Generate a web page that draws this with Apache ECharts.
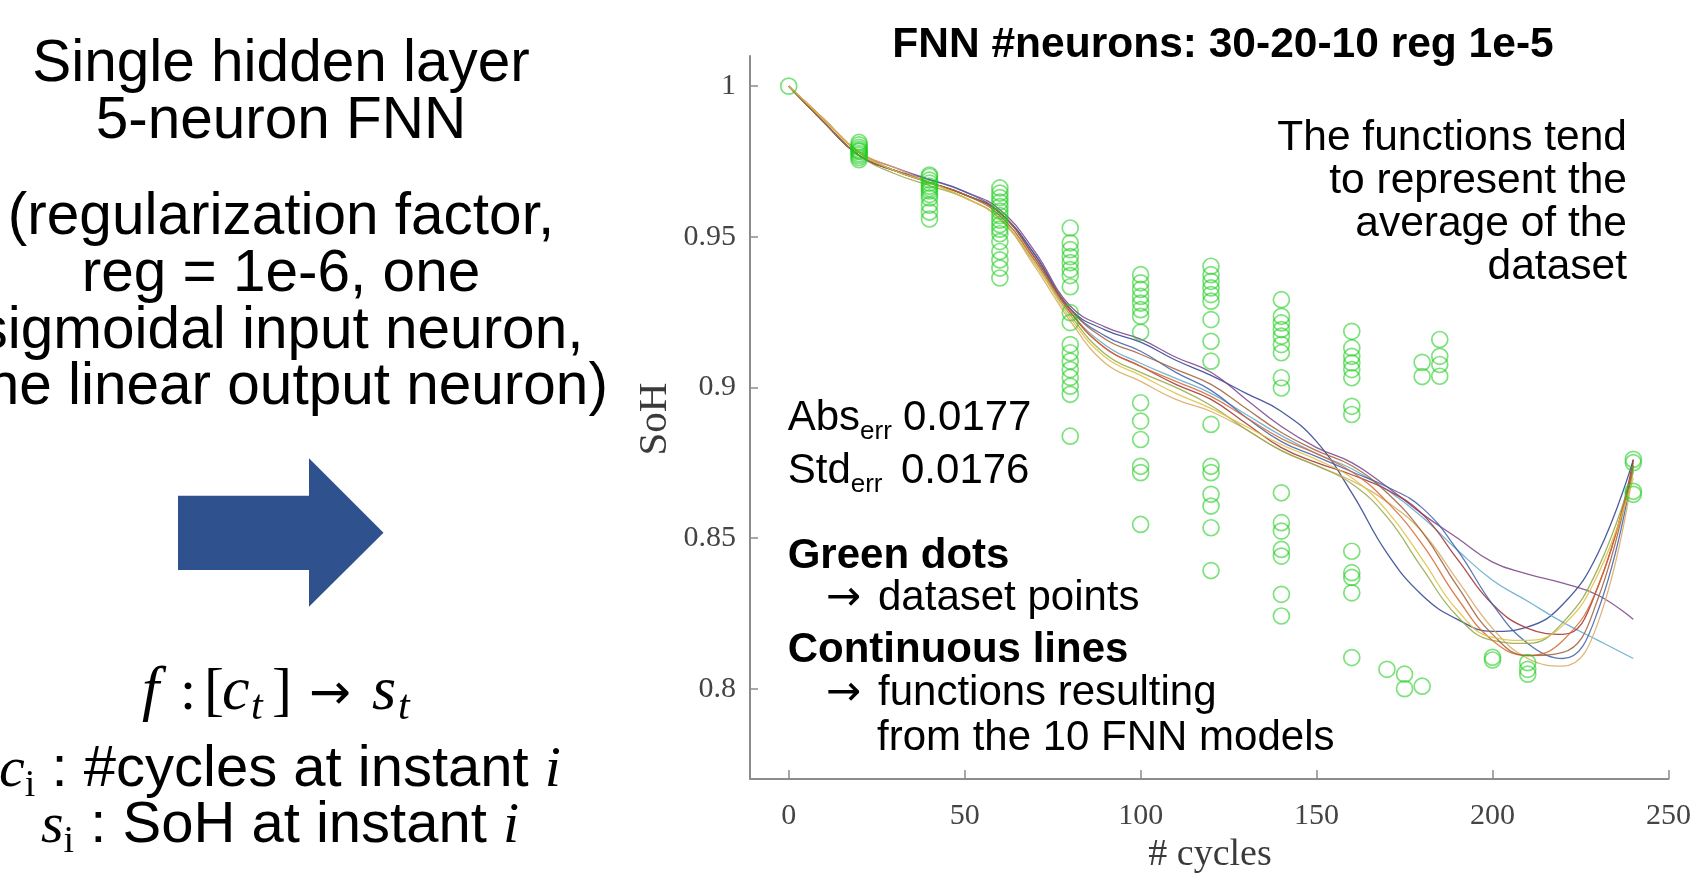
<!DOCTYPE html>
<html><head><meta charset="utf-8">
<script src="https://cdn.jsdelivr.net/npm/echarts@6/dist/echarts.min.js"></script>
<style>html,body{margin:0;padding:0;background:#fff;}#c{width:1694px;height:873px;}</style>
</head><body><div id="c"></div>
<script>
// ---------------- data ----------------
const xTicks = [0, 50, 100, 150, 200, 250];
const yTicks = [0.8, 0.85, 0.9, 0.95, 1];

const obsCycles = [0, 20, 40, 60, 80, 100, 120, 140, 160, 170, 175, 180, 185, 200, 210, 240];
const obsSoH = [
  [1.0],
  [0.9813, 0.9805, 0.9797, 0.979, 0.9783, 0.9776, 0.977, 0.9763, 0.9756, 0.9785],
  [0.9705, 0.970, 0.9688, 0.9678, 0.9668, 0.966, 0.9652, 0.964, 0.9629, 0.9605, 0.9582, 0.9559],
  [0.9662, 0.9645, 0.963, 0.9615, 0.960, 0.9585, 0.957, 0.9555, 0.954, 0.9525, 0.951, 0.9484, 0.9451, 0.9423, 0.9396, 0.9363],
  [0.9529, 0.948, 0.9457, 0.9434, 0.9414, 0.9391, 0.9371, 0.9334, 0.9248, 0.9215, 0.9142, 0.9115, 0.9087, 0.9059, 0.9033, 0.9004, 0.8977, 0.8838],
  [0.9374, 0.9347, 0.9325, 0.9302, 0.928, 0.9258, 0.9236, 0.9183, 0.8949, 0.8888, 0.8827, 0.8738, 0.8717, 0.8545],
  [0.9402, 0.9374, 0.9352, 0.933, 0.9308, 0.9286, 0.9225, 0.9153, 0.9087, 0.8877, 0.8738, 0.8717, 0.8645, 0.8606, 0.8534, 0.8392],
  [0.9291, 0.9236, 0.9214, 0.9192, 0.917, 0.9142, 0.9115, 0.9032, 0.8998, 0.865, 0.8551, 0.8523, 0.8462, 0.844, 0.8313, 0.8241],
  [0.9186, 0.9131, 0.9103, 0.9081, 0.9059, 0.9032, 0.8937, 0.891, 0.8456, 0.8385, 0.8369, 0.8318, 0.8103],
  [0.8064],
  [0.8048, 0.8000],
  [0.9083, 0.9036, 0.8008],
  [0.9159, 0.9103, 0.9076, 0.9037],
  [0.8104, 0.8095],
  [0.8086, 0.8064, 0.8048],
  [0.8761, 0.875, 0.8655, 0.8645]
];

const modelCycles = [0, 10, 20, 30, 40, 50, 60, 70, 80, 90, 100, 110, 120, 130, 140, 150, 160, 170, 180, 190, 200, 210, 220, 230, 240];
const model1  = [1.0, 0.988, 0.977, 0.972, 0.968, 0.964, 0.958, 0.944, 0.926, 0.919, 0.915, 0.909, 0.904, 0.898, 0.892, 0.882, 0.865, 0.845, 0.831, 0.823, 0.819, 0.8205, 0.828, 0.845, 0.876];
const model2  = [1.0, 0.989, 0.978, 0.973, 0.969, 0.965, 0.959, 0.945, 0.927, 0.920, 0.916, 0.910, 0.905, 0.896, 0.887, 0.880, 0.875, 0.867, 0.858, 0.850, 0.842, 0.838, 0.835, 0.831, 0.823];
const model3  = [1.0, 0.989, 0.978, 0.972, 0.968, 0.964, 0.957, 0.942, 0.925, 0.914, 0.908, 0.903, 0.898, 0.891, 0.884, 0.878, 0.873, 0.866, 0.857, 0.846, 0.836, 0.829, 0.822, 0.816, 0.810];
const model4  = [1.0, 0.988, 0.977, 0.972, 0.968, 0.964, 0.958, 0.943, 0.925, 0.913, 0.907, 0.901, 0.896, 0.888, 0.880, 0.875, 0.871, 0.866, 0.858, 0.843, 0.828, 0.820, 0.818, 0.834, 0.876];
const model5  = [1.0, 0.988, 0.977, 0.972, 0.969, 0.965, 0.958, 0.944, 0.926, 0.917, 0.912, 0.905, 0.899, 0.890, 0.882, 0.877, 0.872, 0.867, 0.860, 0.846, 0.828, 0.815, 0.810, 0.826, 0.874];
const model6  = [1.0, 0.989, 0.978, 0.973, 0.968, 0.963, 0.956, 0.940, 0.922, 0.908, 0.902, 0.896, 0.892, 0.886, 0.879, 0.874, 0.869, 0.862, 0.852, 0.836, 0.820, 0.810, 0.8075, 0.822, 0.873];
const model7  = [1.0, 0.988, 0.977, 0.971, 0.967, 0.963, 0.956, 0.941, 0.924, 0.911, 0.905, 0.900, 0.894, 0.886, 0.879, 0.874, 0.868, 0.857, 0.840, 0.824, 0.816, 0.815, 0.822, 0.840, 0.872];
const model8  = [1.0, 0.989, 0.978, 0.972, 0.968, 0.964, 0.957, 0.942, 0.925, 0.913, 0.907, 0.902, 0.897, 0.890, 0.883, 0.878, 0.872, 0.862, 0.848, 0.830, 0.816, 0.811, 0.816, 0.834, 0.874];
const model9  = [1.0, 0.988, 0.977, 0.972, 0.968, 0.964, 0.958, 0.943, 0.926, 0.916, 0.911, 0.906, 0.901, 0.893, 0.885, 0.879, 0.874, 0.865, 0.852, 0.834, 0.818, 0.811, 0.812, 0.830, 0.875];
const model10 = [1.0, 0.989, 0.978, 0.972, 0.968, 0.963, 0.956, 0.941, 0.923, 0.910, 0.904, 0.898, 0.893, 0.887, 0.881, 0.876, 0.870, 0.859, 0.843, 0.826, 0.817, 0.816, 0.821, 0.838, 0.870];
const models = [model1, model2, model3, model4, model5, model6, model7, model8, model9, model10];

// ---------------- styling ----------------
const lineColors = ['#2d3f8c', '#7b3f8a', '#5fa8cc', '#a03030', '#3f5fa8', '#d8a860', '#90a848', '#d86830', '#a0603a', '#e0c040'];
const SANS = '"Liberation Sans", Arial, sans-serif';
const SERIF = '"Liberation Serif", "Times New Roman", serif';
const ARROWF = '"DejaVu Sans", sans-serif';

const mctx = document.createElement('canvas').getContext('2d');
function fontStr(p) { return (p.style || 'normal') + ' ' + (p.weight || 'normal') + ' ' + p.size + 'px ' + p.family; }
function midToBase(f) { mctx.font = f; mctx.textBaseline = 'middle'; return mctx.measureText('H').actualBoundingBoxDescent; }
function tw(text, f) { mctx.font = f; mctx.textBaseline = 'alphabetic'; return mctx.measureText(text).width; }
function textEl(p, x, baseline, align) {
  const f = fontStr(p);
  return { type: 'text', x: x, y: baseline + (p.dy || 0) - midToBase(f), z: 100,
    style: { text: p.text, font: f, fill: p.color || '#000', align: align || 'left', verticalAlign: 'middle', textAlign: align || 'left', textVerticalAlign: 'middle' } };
}
function lineEls(pieces, cx, baseline) {
  const widths = pieces.map(p => tw(p.text, fontStr(p)));
  const total = widths.reduce((a, b) => a + b, 0);
  let x = cx - total / 2;
  return pieces.map((p, i) => { const e = textEl(p, x, baseline, 'left'); x += widths[i]; return e; });
}

const graphics = [];
// left panel text
const leftLines = ['Single hidden layer', '5-neuron FNN', '(regularization factor,', 'reg = 1e-6, one', 'sigmoidal input neuron,', 'one linear output neuron)'];
const leftBase = [81, 138, 234, 291, 347.5, 404];
leftLines.forEach((t, i) => graphics.push(textEl({ text: t, size: 58.5, family: SANS }, 281, leftBase[i], 'center')));
// big arrow
graphics.push({ type: 'polygon', z: 100, shape: { points: [[178, 495.7], [309, 495.7], [309, 458.3], [383.5, 532.7], [309, 606.7], [309, 570], [178, 570]] }, style: { fill: '#2F528F' } });
// formula f : [c_t] -> s_t
const MI = (t, s) => ({ text: t, size: s || 58, family: SERIF, style: 'italic' });
const MR = (t, s) => ({ text: t, size: s || 58, family: SERIF });
const fb = 709;
[[MI('f', 62), 142], [MR(':', 58), 180], [MR('[', 60), 204], [MI('c', 62), 222], [Object.assign(MI('t', 42), { dy: 10 }), 251],
 [MR(']', 60), 272], [{ text: '\u2192', size: 50, family: ARROWF }, 309], [MI('s', 62), 372], [Object.assign(MI('t', 42), { dy: 10 }), 398]]
  .forEach(([p, x]) => graphics.push(textEl(p, x, fb, 'left')));
lineEls([MI('c'), Object.assign(MR('i', 38), { dy: 10 }), { text: ' : #cycles at instant ', size: 58, family: SANS }, MI('i')], 280, 786).forEach(e => graphics.push(e));
lineEls([MI('s'), Object.assign(MR('i', 38), { dy: 10 }), { text: ' : SoH at instant ', size: 58, family: SANS }, MI('i')], 280, 842).forEach(e => graphics.push(e));

// chart title + annotations
graphics.push(textEl({ text: 'FNN #neurons: 30-20-10 reg 1e-5', size: 42.5, family: SANS, weight: 'bold' }, 1223, 56.7, 'center'));
['The functions tend', 'to represent the', 'average of the', 'dataset'].forEach((t, i) =>
  graphics.push(textEl({ text: t, size: 42.5, family: SANS }, 1627, [150, 192.5, 236, 278.5][i], 'right')));
const A = (t) => ({ text: t, size: 42, family: SANS });
graphics.push(textEl(A('Abs'), 787.7, 430, 'left'));
graphics.push(textEl({ text: 'err', size: 26, family: SANS, dy: 9 }, 787.7 + tw('Abs', fontStr(A('Abs'))), 430, 'left'));
graphics.push(textEl(A('0.0177'), 903, 430, 'left'));
graphics.push(textEl(A('Std'), 787.7, 483, 'left'));
graphics.push(textEl({ text: 'err', size: 26, family: SANS, dy: 9 }, 787.7 + tw('Std', fontStr(A('Std'))), 483, 'left'));
graphics.push(textEl(A('0.0176'), 901, 483, 'left'));
graphics.push(textEl({ text: 'Green dots', size: 42, family: SANS, weight: 'bold' }, 787.7, 568, 'left'));
graphics.push(textEl({ text: '\u2192', size: 42, family: ARROWF }, 826, 610, 'left'));
graphics.push(textEl(A('dataset points'), 878, 610, 'left'));
graphics.push(textEl({ text: 'Continuous lines', size: 42, family: SANS, weight: 'bold' }, 787.7, 661.5, 'left'));
graphics.push(textEl({ text: '\u2192', size: 42, family: ARROWF }, 826, 705, 'left'));
graphics.push(textEl(A('functions resulting'), 878, 705, 'left'));
graphics.push(textEl(A('from the 10 FNN models'), 877, 749.5, 'left'));
// axis names
graphics.push(textEl({ text: '# cycles', size: 38, family: SERIF, color: '#3a3a3a' }, 1210, 865, 'center'));
(function () {
  const p = { text: 'SoH', size: 41, family: SERIF, color: '#3a3a3a' };
  const e = textEl(p, 0, 0, 'center');
  e.x = 652 + (0.33 * 41 - midToBase(fontStr(p)));
  e.y = 419; e.rotation = Math.PI / 2;
  graphics.push(e);
})();

// ---------------- chart ----------------
const scatterData = [];
obsCycles.forEach((c, i) => obsSoH[i].forEach(v => scatterData.push([c, v])));

const axisGray = '#8c8c8c';
const series = models.map((m, i) => ({
  type: 'line', name: 'FNN model ' + (i + 1), data: modelCycles.map((c, j) => [c, m[j]]),
  smooth: 0.45, showSymbol: false, symbol: 'none', z: 2,
  lineStyle: { color: lineColors[i], width: 1.3, opacity: 0.85 }, emphasis: { disabled: true }
}));
series.push({
  type: 'scatter', name: 'dataset', data: scatterData, symbol: 'circle', symbolSize: 16, z: 3,
  itemStyle: { color: 'rgba(0,0,0,0)', borderColor: 'rgba(30,205,30,0.72)', borderWidth: 1.7 }
});

const chart = echarts.init(document.getElementById('c'), null, { renderer: 'canvas', width: 1694, height: 873 });
chart.setOption({
  backgroundColor: '#ffffff',
  animation: false,
  grid: { left: 750, right: 23.5, top: 56, bottom: 94, containLabel: false },
  xAxis: {
    type: 'value', min: -11, max: 250,
    axisLine: { show: true, onZero: false, lineStyle: { color: axisGray, width: 2 } },
    axisTick: { show: true, inside: true, length: 9, customValues: xTicks, lineStyle: { color: axisGray, width: 1.5 } },
    axisLabel: { customValues: xTicks, fontFamily: SERIF, fontSize: 30, color: '#444', margin: 22, formatter: v => String(v) },
    splitLine: { show: false }
  },
  yAxis: {
    type: 'value', min: 0.77, max: 1.01,
    axisLine: { show: true, onZero: false, lineStyle: { color: axisGray, width: 2 } },
    axisTick: { show: true, inside: true, length: 8, customValues: yTicks, lineStyle: { color: axisGray, width: 1.5 } },
    axisLabel: { customValues: yTicks, fontFamily: SERIF, fontSize: 30, color: '#444', margin: 14, formatter: v => String(+(+v).toFixed(2)) },
    splitLine: { show: false }
  },
  series: series,
  graphic: { elements: graphics }
});
</script>
</body></html>
